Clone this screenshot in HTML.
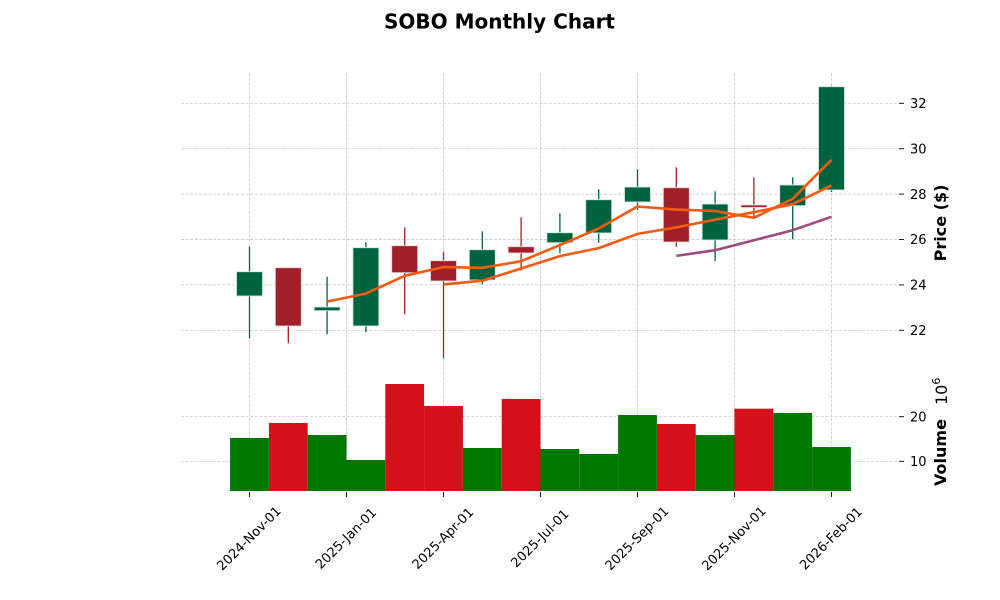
<!DOCTYPE html>
<html>
<head>
<meta charset="utf-8">
<style>
html,body{margin:0;padding:0;background:#fff;}
svg{display:block;font-family:"DejaVu Sans","Liberation Sans",sans-serif;}
</style>
</head>
<body>
<svg width="1000" height="600" viewBox="0 0 1000 600" xmlns="http://www.w3.org/2000/svg">
<rect width="1000" height="600" fill="#fff"/>
<text x="499.5" y="28.5" text-anchor="middle" font-size="20" font-weight="bold" fill="#000">SOBO Monthly Chart</text>

<!-- grid -->
<g stroke="#c2c2c2" stroke-width="0.7" stroke-dasharray="3,1.6" fill="none">
  <line x1="181" y1="103.3" x2="899" y2="103.3"/>
  <line x1="181" y1="148.7" x2="899" y2="148.7"/>
  <line x1="181" y1="194.1" x2="899" y2="194.1"/>
  <line x1="181" y1="239.5" x2="899" y2="239.5"/>
  <line x1="181" y1="284.9" x2="899" y2="284.9"/>
  <line x1="181" y1="330.3" x2="899" y2="330.3"/>
  <line x1="181" y1="416.7" x2="899" y2="416.7"/>
  <line x1="181" y1="461.3" x2="899" y2="461.3"/>
  <line x1="249.5" y1="73" x2="249.5" y2="491"/>
  <line x1="346.5" y1="73" x2="346.5" y2="491"/>
  <line x1="443.5" y1="73" x2="443.5" y2="491"/>
  <line x1="540.5" y1="73" x2="540.5" y2="491"/>
  <line x1="637.5" y1="73" x2="637.5" y2="491"/>
  <line x1="734.5" y1="73" x2="734.5" y2="491"/>
  <line x1="831.5" y1="73" x2="831.5" y2="491"/>
</g>

<!-- wicks -->
<g stroke-width="1.3">
  <line x1="249.5" y1="246.7" x2="249.5" y2="338.3" stroke="#006340"/>
  <line x1="288.3" y1="267.3" x2="288.3" y2="343.3" stroke="#a01f28"/>
  <line x1="327.1" y1="276.7" x2="327.1" y2="334.3" stroke="#006340"/>
  <line x1="365.9" y1="242.3" x2="365.9" y2="332.3" stroke="#006340"/>
  <line x1="404.7" y1="227.3" x2="404.7" y2="314.3" stroke="#a01f28"/>
  <line x1="443.5" y1="251.7" x2="443.5" y2="358.3" stroke="#a01f28"/>
  <line x1="482.3" y1="231.3" x2="482.3" y2="284.3" stroke="#006340"/>
  <line x1="521.1" y1="217.3" x2="521.1" y2="270.7" stroke="#a01f28"/>
  <line x1="559.9" y1="213.3" x2="559.9" y2="253.3" stroke="#006340"/>
  <line x1="598.7" y1="189.3" x2="598.7" y2="242.7" stroke="#006340"/>
  <line x1="637.5" y1="169.3" x2="637.5" y2="210" stroke="#006340"/>
  <line x1="676.3" y1="167.3" x2="676.3" y2="246.7" stroke="#a01f28"/>
  <line x1="715.1" y1="191.3" x2="715.1" y2="261.3" stroke="#006340"/>
  <line x1="753.9" y1="177.3" x2="753.9" y2="216.7" stroke="#a01f28"/>
  <line x1="792.7" y1="177.3" x2="792.7" y2="239.3" stroke="#006340"/>
  <line x1="831.5" y1="85.7" x2="831.5" y2="192" stroke="#006340"/>
</g>

<!-- bodies -->
<g stroke-width="0.9">
  <rect x="236.5" y="271.7" width="26" height="24.3" fill="#006340" stroke="#d6e6de"/>
  <rect x="275.3" y="267.7" width="26" height="58.3" fill="#a01f28" stroke="#ecd6d8"/>
  <rect x="314.1" y="307" width="26" height="3.7" fill="#006340" stroke="#d6e6de"/>
  <rect x="352.9" y="247.7" width="26" height="78.3" fill="#006340" stroke="#d6e6de"/>
  <rect x="391.7" y="245.7" width="26" height="27" fill="#a01f28" stroke="#ecd6d8"/>
  <rect x="430.5" y="260.7" width="26" height="20.3" fill="#a01f28" stroke="#ecd6d8"/>
  <rect x="469.3" y="249.7" width="26" height="30.3" fill="#006340" stroke="#d6e6de"/>
  <rect x="508.1" y="246.7" width="26" height="6.3" fill="#a01f28" stroke="#ecd6d8"/>
  <rect x="546.9" y="232.7" width="26" height="10" fill="#006340" stroke="#d6e6de"/>
  <rect x="585.7" y="199.7" width="26" height="33.3" fill="#006340" stroke="#d6e6de"/>
  <rect x="624.5" y="187" width="26" height="15" fill="#006340" stroke="#d6e6de"/>
  <rect x="663.3" y="187.7" width="26" height="54.3" fill="#a01f28" stroke="#ecd6d8"/>
  <rect x="702.1" y="204" width="26" height="36" fill="#006340" stroke="#d6e6de"/>
  <rect x="740.9" y="205" width="26" height="2.5" fill="#a01f28" stroke="#ecd6d8"/>
  <rect x="779.7" y="185" width="26" height="20.7" fill="#006340" stroke="#d6e6de"/>
  <rect x="818.5" y="86.7" width="26" height="103.3" fill="#006340" stroke="#d6e6de"/>
</g>

<!-- moving averages -->
<g fill="none" stroke-width="2.6" stroke-linejoin="round">
  <polyline stroke="#f35b12" points="327.1,301.6 365.9,293.6 404.7,275.8 443.5,267.1 482.3,267.8 521.1,261.2 559.9,245.1 598.7,228.5 637.5,206.5 676.3,209.6 715.1,211 753.9,217.8 792.7,198.8 831.5,159.7"/>
  <polyline stroke="#f35b12" points="443.5,284.4 482.3,280.7 521.1,268.5 559.9,256.1 598.7,248.1 637.5,233.9 676.3,227.4 715.1,219.7 753.9,212.2 792.7,204.2 831.5,185.4"/>
  <polyline stroke="#9d4a7e" points="676.3,255.9 715.1,250.2 753.9,240.3 792.7,230.2 831.5,216.8"/>
</g>

<!-- volume bars -->
<g>
  <rect x="230.1" y="438" width="38.8" height="53" fill="#007800"/>
  <rect x="268.9" y="423" width="38.8" height="68" fill="#d4101b"/>
  <rect x="307.7" y="435" width="38.8" height="56" fill="#007800"/>
  <rect x="346.5" y="460" width="38.8" height="31" fill="#007800"/>
  <rect x="385.3" y="384" width="38.8" height="107" fill="#d4101b"/>
  <rect x="424.1" y="406" width="38.8" height="85" fill="#d4101b"/>
  <rect x="462.9" y="448" width="38.8" height="43" fill="#007800"/>
  <rect x="501.7" y="399" width="38.8" height="92" fill="#d4101b"/>
  <rect x="540.5" y="449" width="38.8" height="42" fill="#007800"/>
  <rect x="579.3" y="454" width="38.8" height="37" fill="#007800"/>
  <rect x="618.1" y="415" width="38.8" height="76" fill="#007800"/>
  <rect x="656.9" y="424" width="38.8" height="67" fill="#d4101b"/>
  <rect x="695.7" y="435" width="38.8" height="56" fill="#007800"/>
  <rect x="734.5" y="408.7" width="38.8" height="82.3" fill="#d4101b"/>
  <rect x="773.3" y="413" width="38.8" height="78" fill="#007800"/>
  <rect x="812.1" y="447" width="38.8" height="44" fill="#007800"/>
</g>

<!-- ticks -->
<g stroke="#000" stroke-width="0.9">
  <line x1="899" y1="103.3" x2="904" y2="103.3"/>
  <line x1="899" y1="148.7" x2="904" y2="148.7"/>
  <line x1="899" y1="194.1" x2="904" y2="194.1"/>
  <line x1="899" y1="239.5" x2="904" y2="239.5"/>
  <line x1="899" y1="284.9" x2="904" y2="284.9"/>
  <line x1="899" y1="330.3" x2="904" y2="330.3"/>
  <line x1="899" y1="416.7" x2="904" y2="416.7"/>
  <line x1="899" y1="461.3" x2="904" y2="461.3"/>
  <line x1="249.5" y1="492" x2="249.5" y2="497"/>
  <line x1="346.5" y1="492" x2="346.5" y2="497"/>
  <line x1="443.5" y1="492" x2="443.5" y2="497"/>
  <line x1="540.5" y1="492" x2="540.5" y2="497"/>
  <line x1="637.5" y1="492" x2="637.5" y2="497"/>
  <line x1="734.5" y1="492" x2="734.5" y2="497"/>
  <line x1="831.5" y1="492" x2="831.5" y2="497"/>
</g>
<g font-size="13" fill="#000">
  <text x="910" y="108">32</text>
  <text x="910" y="153.4">30</text>
  <text x="910" y="198.8">28</text>
  <text x="910" y="244.2">26</text>
  <text x="910" y="289.6">24</text>
  <text x="910" y="335">22</text>
  <text x="910" y="421.4">20</text>
  <text x="910" y="466">10</text>
</g>

<!-- axis labels -->
<text transform="translate(946,223) rotate(-90)" text-anchor="middle" font-size="16" font-weight="bold" fill="#000">Price ($)</text>
<text transform="translate(946,452.5) rotate(-90)" text-anchor="middle" font-size="16" font-weight="bold" fill="#000">Volume</text>
<text transform="translate(947,405) rotate(-90)" font-size="16" fill="#000">10<tspan dy="-7" font-size="11">6</tspan></text>

<!-- x tick labels -->
<g font-size="13" fill="#000" text-anchor="middle" dominant-baseline="central">
  <text x="249.5" y="539" transform="rotate(-45 249.5 539)">2024-Nov-01</text>
  <text x="346.5" y="539" transform="rotate(-45 346.5 539)">2025-Jan-01</text>
  <text x="443.5" y="539" transform="rotate(-45 443.5 539)">2025-Apr-01</text>
  <text x="540.5" y="539" transform="rotate(-45 540.5 539)">2025-Jul-01</text>
  <text x="637.5" y="539" transform="rotate(-45 637.5 539)">2025-Sep-01</text>
  <text x="734.5" y="539" transform="rotate(-45 734.5 539)">2025-Nov-01</text>
  <text x="831.5" y="539" transform="rotate(-45 831.5 539)">2026-Feb-01</text>
</g>
</svg>
</body>
</html>
